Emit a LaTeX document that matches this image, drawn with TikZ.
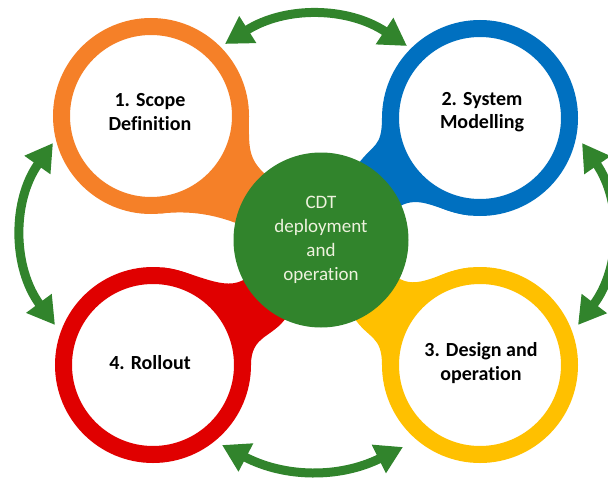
\documentclass[tikz,border=0pt]{standalone}
\usepackage{fontspec}
\setmainfont{Carlito}[RawFeature={-liga}]
\usetikzlibrary{arrows.meta,calc}
\definecolor{cOrange}{RGB}{245,128,40}
\definecolor{cBlue}{RGB}{0,112,192}
\definecolor{cRed}{RGB}{224,0,0}
\definecolor{cYellow}{RGB}{255,192,0}
\definecolor{cGreen}{RGB}{49,132,44}
\definecolor{cText}{RGB}{238,242,222}
\tikzset{
  ring/.style={circle, line width=17pt, fill=white, minimum size=179pt, inner sep=0pt},
  garrow/.style={draw=cGreen, line width=9pt, {Triangle[length=27pt,width=30pt]}-{Triangle[length=27pt,width=30pt]}},
  lbl/.style={font=\fontsize{20}{23.5}\selectfont\bfseries, align=center, text=black, inner sep=0pt},
  ctext/.style={circle, fill=cGreen, minimum size=175pt, inner sep=0pt, font=\fontsize{19}{24}\selectfont, align=center, text=cText},
}
% #1 ring centre, #2 colour, #3 #4 departure angles on ring, #5 #6 angles on the green circle
\newcommand\ringneck[6]{%
  \fill[#2] (#1) -- ($(#1)+(#3:98)$)
    .. controls ($(#1)+(#3:98)+(#3-90:30)$) and ($(C0)+(#5:84)+(#5+\nrot:26)$) .. ($(C0)+(#5:84)$)
    -- (C0) -- ($(C0)+(#6:84)$)
    .. controls ($(C0)+(#6:84)+(#6-\nrot:26)$) and ($(#1)+(#4:98)+(#4+90:30)$) .. ($(#1)+(#4:98)$) -- cycle;
}
\def\nrot{10}
\begin{document}
\begin{tikzpicture}[x=1pt,y=-1pt]
\useasboundingbox (0,0) rectangle (608,479);
\clip (0,0) rectangle (608,479);
\coordinate (C0) at (321,240);
\coordinate (cO) at (151,116);
\coordinate (cB) at (480,118);
\coordinate (cR) at (153,365);
\coordinate (cY) at (480,365);
% necks
\ringneck{cO}{cOrange}{84}{0}{191}{230}
\ringneck{cB}{cBlue}{180}{96}{296}{337}
\ringneck{cR}{cRed}{0}{-84}{114}{153}
\ringneck{cY}{cYellow}{-96}{-180}{26}{67}
% rings
\node[ring, draw=cOrange] (rO) at (cO) {};
\node[ring, draw=cBlue] (rB) at (cB) {};
\node[ring, draw=cRed] (rR) at (cR) {};
\node[ring, draw=cYellow] (rY) at (cY) {};
\node[lbl] (tO) at (150,112) {1. Scope\\Definition};
\node[lbl] (tB) at (482,112) {2. System\\Modelling};
\node[lbl] (tY) at (481,363) {3. Design and\\operation};
\node[lbl] (tR) at (150,363) {4. Rollout};
% centre
\node[ctext] (c) at (C0) {CDT\\deployment\\and\\operation};
% arrows
\coordinate (aT1) at (225,44);
\coordinate (aT2) at (407,46);
\coordinate (aB1) at (222,445);
\coordinate (aB2) at (403,447);
\coordinate (aL1) at (53,143);
\coordinate (aL2) at (55,325);
\coordinate (aR1) at (582,143);
\coordinate (aR2) at (578,325);
\draw[garrow] (aT1) to[bend left=33] (aT2);
\draw[garrow] (aB1) to[bend right=27] (aB2);
\draw[garrow] (aL1) to[bend right=36] (aL2);
\draw[garrow] (aR1) to[bend left=36] (aR2);
\end{tikzpicture}
\end{document}
